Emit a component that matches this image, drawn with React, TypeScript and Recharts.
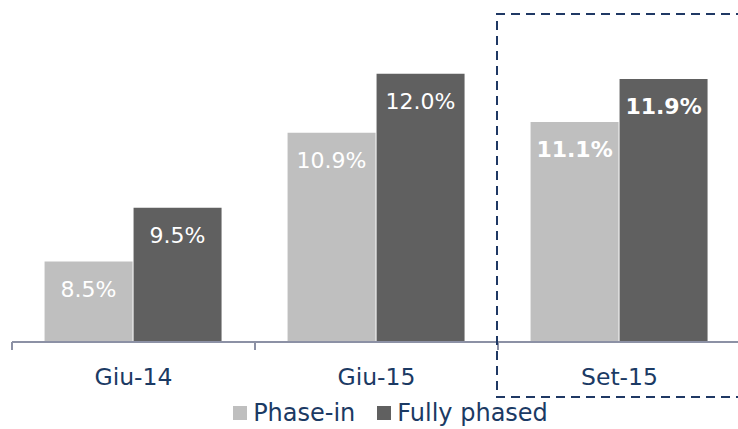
import { Bar, BarChart, LabelList, Legend, XAxis, YAxis } from 'recharts'

const categories = ['Giu-14', 'Giu-15', 'Set-15']
const phaseIn = [8.5, 10.9, 11.1]
const fullyPhased = [9.5, 12.0, 11.9]
const highlighted = 'Set-15'

const NAVY = '#1b3a64'
const FONT = '"DejaVu Sans", Tahoma, sans-serif'

const data = categories.map((c, i) => ({ name: c, phaseIn: phaseIn[i], fullyPhased: fullyPhased[i] }))

function CategoryTick(props: any) {
  const { x, y, payload } = props
  const half = payload?.offset ?? 121.5
  return (
    <g>
      <line x1={x - half} x2={x - half} y1={y} y2={y + 8} stroke="#8c91a5" strokeWidth={2} />
      <text x={x} y={y + 43} textAnchor="middle" fill={NAVY} fontSize={23.5} fontFamily={FONT}>{payload.value}</text>
    </g>
  )
}

function BarLabel(props: any) {
  const { x, y, width, value, index } = props
  const bold = categories[index] === highlighted
  return (
    <text x={x + width / 2} y={y + 35} textAnchor="middle" fill="#fff" fontSize={22} fontWeight={bold ? 'bold' : 'normal'} fontFamily={FONT}>
      {value.toFixed(1)}%
    </text>
  )
}

function LegendContent() {
  const items = [{ label: 'Phase-in', color: '#bfbfbf' }, { label: 'Fully phased', color: '#606060' }]
  return (
    <div style={{ display: 'flex', justifyContent: 'center', gap: 22, fontFamily: FONT, fontSize: 24, lineHeight: '28px', color: NAVY, marginLeft: 28, paddingTop: 7 }}>
      {items.map(it => (
        <span key={it.label} style={{ display: 'flex', alignItems: 'center', gap: 6 }}>
          <span style={{ width: 14, height: 14, background: it.color, display: 'inline-block' }} />
          {it.label}
        </span>
      ))}
    </div>
  )
}

export default function App() {
  return (
    <div style={{ position: 'absolute', left: 0, top: 0, width: 738, height: 429, overflow: 'hidden', background: '#fff' }}>
      <BarChart width={741} height={429} data={data} margin={{ top: 20, right: 0, left: 12, bottom: 0 }} barCategoryGap="13.4%" barGap={1}>
        <XAxis dataKey="name" height={50} axisLine={{ stroke: '#8c91a5', strokeWidth: 2 }} tickLine={false} tickSize={0} tickMargin={0} tick={<CategoryTick />} interval={0} />
        <YAxis hide domain={[7, 13]} />
        <Legend verticalAlign="bottom" content={<LegendContent />} wrapperStyle={{ height: 37 }} />
        <Bar dataKey="phaseIn" fill="#bfbfbf" isAnimationActive={false}>
          <LabelList dataKey="phaseIn" content={<BarLabel />} />
        </Bar>
        <Bar dataKey="fullyPhased" fill="#606060" isAnimationActive={false}>
          <LabelList dataKey="fullyPhased" content={<BarLabel />} />
        </Bar>
      </BarChart>
      <svg width={738} height={429} style={{ position: 'absolute', left: 0, top: 0, pointerEvents: 'none' }}>
        <polyline points="760,14 497,14 497,397 760,397" fill="none" stroke="#1f3864" strokeWidth={2} strokeDasharray="9 6" />
      </svg>
    </div>
  )
}
